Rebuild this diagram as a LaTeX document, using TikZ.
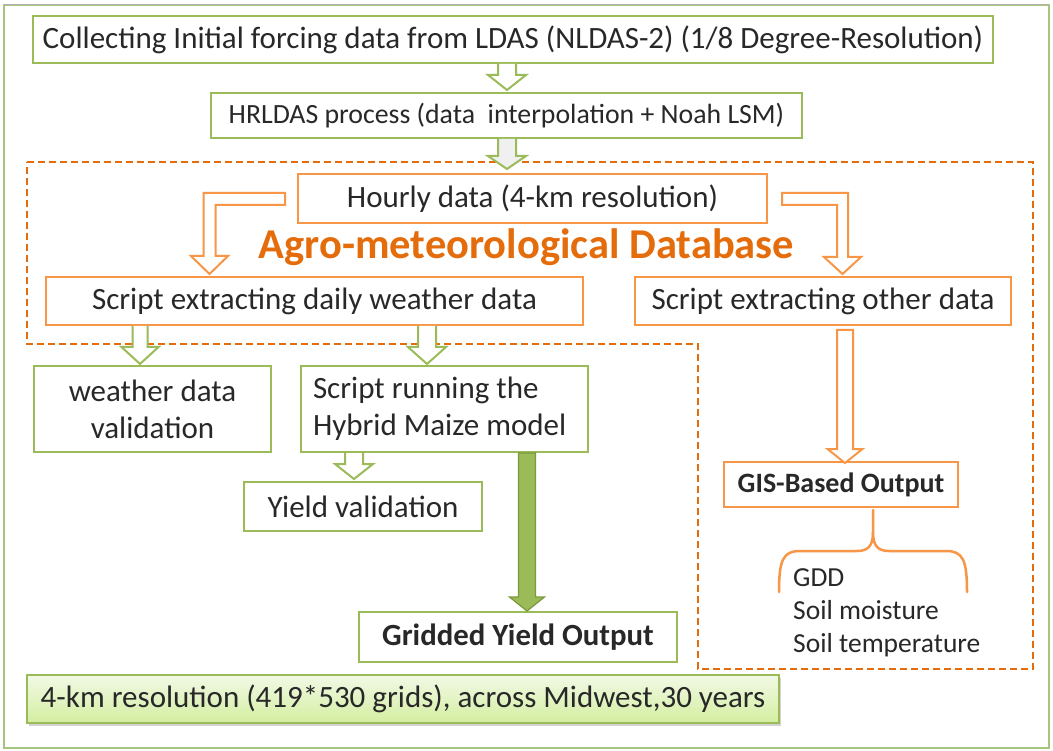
\documentclass[tikz,border=0pt]{standalone}
\usepackage{fontspec}
\setmainfont{Carlito}
\usetikzlibrary{calc,shadows}

\definecolor{olive}{HTML}{9BBB59}
\definecolor{oliveDark}{HTML}{7A9A3C}
\definecolor{frameGreen}{HTML}{A9C47C}
\definecolor{accOrange}{HTML}{F79646}
\definecolor{deepOrange}{HTML}{E46C0A}
\definecolor{ink}{HTML}{282828}
\definecolor{limeTop}{HTML}{F2F9E6}
\definecolor{limeBottom}{HTML}{D3EEA0}

% vertical block arrow: style, from, to, half shaft, half head, head length, ending
\newcommand\blockdown[7]{%
  \draw[#1] let \p1=#2, \p2=#3 in
    (\x1-#4,\y1) -- (\x1-#4,\y2+#6) -- (\x1-#5,\y2+#6) -- (\x1,\y2)
    -- (\x1+#5,\y2+#6) -- (\x1+#4,\y2+#6) -- (\x1+#4,\y1) #7;}

\tikzset{
  txt/.style={font=\fontsize{31}{37}\selectfont, text=ink, inner sep=0pt},
  gbox/.style={txt, draw=olive, line width=2pt, fill=white},
  obox/.style={txt, draw=accOrange, line width=2pt, fill=white},
  garrow/.style={draw=olive, line width=2pt, fill=white, line join=miter},
  oarrow/.style={draw=accOrange, line width=2pt, fill=white, line join=miter},
  thickarrow/.style={draw=oliveDark, line width=1.2pt, fill=olive, line join=miter},
  region/.style={draw=deepOrange, line width=2pt, dash pattern=on 7pt off 4pt},
}

\begin{document}
\begin{tikzpicture}[x=1pt,y=-1pt]
\useasboundingbox (0,0) rectangle (1053,751);
\fill[white] (0,0) rectangle (1053,751);

% outer frame
\draw[frameGreen, line width=2.2pt] (4,5) rectangle (1049,748);
\draw[gray!60, line width=1pt] (4,4.5) -- (1049,4.5);

% database region
\draw[region] (27,162) -- (1033,162) -- (1033,669) -- (698,669) -- (698,344) -- (27,344) -- cycle;

% boxes
\node[gbox, minimum width=960pt, minimum height=47pt] (collect) at (513,39.5)
  {Collecting Initial forcing data from LDAS (NLDAS-2) (1/8 Degree-Resolution)};
\node[gbox, minimum width=591pt, minimum height=45pt, font=\fontsize{27.8}{34}\selectfont] (hrldas) at (506.5,115.5)
  {HRLDAS process (data~ interpolation + Noah LSM)};
\node[obox, minimum width=469pt, minimum height=49pt] (hourly) at (532.5,198.5)
  {Hourly data (4-km resolution)};
\node[txt, font=\fontsize{42.5}{50}\selectfont\bfseries, text=deepOrange] (title) at (526.5,247)
  {Agro-meteorological Database};
\node[obox, minimum width=537pt, minimum height=48pt] (daily) at (314.5,301)
  {Script extracting daily weather data};
\node[obox, minimum width=376pt, minimum height=48pt] (other) at (823,301)
  {Script extracting other data};
\node[gbox, minimum width=237pt, minimum height=86pt, align=center] (wval) at (152.5,409)
  {weather data\\validation};
\node[gbox, minimum width=287pt, minimum height=86pt, align=flush left, text width=263pt] (hybrid) at (444.5,409)
  {Script running the\\Hybrid Maize model};
\node[gbox, minimum width=238pt, minimum height=49pt] (yval) at (363,506.5)
  {Yield validation};
\node[gbox, minimum width=318pt, minimum height=50pt, font=\fontsize{30.8}{36}\selectfont\bfseries] (grid) at (518,637)
  {Gridded Yield Output};
\node[obox, minimum width=234pt, minimum height=45pt, font=\fontsize{28}{34}\selectfont\bfseries] (gis) at (841,484.5)
  {GIS-Based Output};
\node[txt, draw=olive, line width=1.2pt, top color=limeTop, bottom color=limeBottom,
      minimum width=752pt, minimum height=48pt, font=\fontsize{31}{36}\selectfont,
      drop shadow={opacity=0.35, shadow xshift=1.5pt, shadow yshift=-2.5pt}] (res) at (403,699)
  {4-km resolution (419*530 grids), across Midwest,30 years};
\node[txt, align=left, anchor=west, font=\fontsize{27.5}{33}\selectfont] (vars) at (793,613)
  {GDD\\Soil moisture\\Soil temperature};

% arrow columns
\coordinate (ca) at (507,0);
\coordinate (cw) at (140,0);
\coordinate (cm) at (427,0);
\coordinate (cy) at (354,0);
\coordinate (cg) at (527,0);
\coordinate (co) at (845,0);
\coordinate (cl) at (209.5,0);
\coordinate (cr) at (842.5,0);

% green hollow arrows
\blockdown{garrow}{(collect.south -| ca)}{($(hrldas.north -| ca)+(0,-2)$)}{9pt}{19pt}{15pt}{}
\blockdown{garrow, fill=gray!12}{(hrldas.south -| ca)}{($(hourly.north -| ca)+(0,-4)$)}{9pt}{19pt}{13pt}{}
\blockdown{garrow}{(daily.south -| cw)}{($(wval.north -| cw)+(0,-1)$)}{7.5pt}{18.5pt}{17pt}{}
\blockdown{garrow}{(daily.south -| cm)}{($(hybrid.north -| cm)+(0,-1)$)}{9pt}{19pt}{17pt}{}
\blockdown{garrow}{(hybrid.south -| cy)}{($(yval.north -| cy)+(0,-2)$)}{9pt}{19pt}{15pt}{}

% filled arrow to the gridded output
\blockdown{thickarrow}{(hybrid.south -| cg)}{(grid.north -| cg)}{8.5pt}{17.5pt}{14pt}{-- cycle}

% orange arrows
\blockdown{oarrow}{($(other.south -| co)+(0,4)$)}{($(gis.north -| co)+(0,2)$)}{8pt}{17.5pt}{14pt}{-- cycle}

\draw[oarrow] let \p1=(hourly.west), \p2=($(daily.north -| cl)+(0,-2)$) in
  (\x1-12pt,\y1+5.5pt) -- (\x2-6pt,\y1+5.5pt) -- (\x2-6pt,\y2+18pt) -- (\x2-18.5pt,\y2+18pt)
  -- (\x2,\y2) -- (\x2+18.5pt,\y2+18pt) -- (\x2+6pt,\y2+18pt) -- (\x2+6pt,\y1-6.5pt)
  -- (\x1-12pt,\y1-6.5pt) -- cycle;
\draw[oarrow] let \p1=(hourly.east), \p2=($(other.north -| cr)+(0,-2)$) in
  (\x1+14pt,\y1+5.5pt) -- (\x2+5.5pt,\y1+5.5pt) -- (\x2+5.5pt,\y2+17pt) -- (\x2+18.5pt,\y2+17pt)
  -- (\x2,\y2) -- (\x2-18.5pt,\y2+17pt) -- (\x2-5.5pt,\y2+17pt) -- (\x2-5.5pt,\y1-6.5pt)
  -- (\x1+14pt,\y1-6.5pt) -- cycle;

% curly brace under the GIS output
\draw[accOrange, line width=2.5pt, line cap=round]
  (779,592) .. controls (779,560) and (783,551) .. (800,551) -- (857,551)
  .. controls (868,551) and (873,546) .. (873,532) -- (873,510);
\draw[accOrange, line width=2.5pt, line cap=round]
  (873,532) .. controls (873,546) and (878,551) .. (889,551) -- (946,551)
  .. controls (963,551) and (967,560) .. (967,592);
\end{tikzpicture}
\end{document}
